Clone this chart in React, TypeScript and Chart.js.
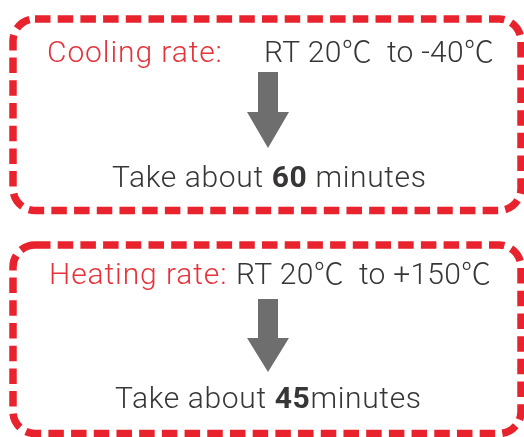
import { useEffect, useRef } from "react";
import { Chart, registerables } from "chart.js";

Chart.register(...registerables);

// ---- content ----
const rateLabels = ["Cooling rate:", "Heating rate:"];
const startTemps = ["RT 20℃", "RT 20℃"];
const targetTemps = ["-40℃", "+150℃"];
const durations = ["60", "45"];
const durationUnits = [" minutes", "minutes"];
const takePrefix = "Take about ";

// ---- layout (scale units == px of the 524x437 canvas) ----
const W = 524;
const H = 437;
const panelBoxes = [
  [13, 19, 521, 210.5],
  [13, 245, 521, 433.5],
];
const headerX = [47, 49];
const headerBaseline = [62, 284];
const tempX = [264, 236];
const arrowX = 268;
const arrowTop = [72, 299];
const arrowNeck = [112, 338];
const arrowTip = [148, 372];
const takeX = [112, 115];
const takeBaseline = [187, 408];

const RED = "#e8232d";
const RED_TEXT = "#e6333b";
const DARK = "#383535";
const GRAY = "#6e6e6e";
const FONT = "Roboto, 'Noto Sans CJK SC', sans-serif";
const FS = 30;

const drawPlugin = {
  id: "infographic",
  afterDraw(chart: any) {
    const ctx: CanvasRenderingContext2D = chart.ctx;
    const sx = chart.scales.x;
    const sy = chart.scales.y;
    const px = (v: number) => sx.getPixelForValue(v);
    const py = (v: number) => sy.getPixelForValue(v);
    ctx.save();
    for (let i = 0; i < rateLabels.length; i++) {
      const [x0, y0, x1, y1] = panelBoxes[i];
      // dashed rounded frame
      ctx.beginPath();
      ctx.setLineDash([15.5, 7.2]);
      ctx.lineWidth = 7.5;
      ctx.strokeStyle = RED;
      (ctx as any).roundRect(px(x0), py(y0), px(x1) - px(x0), py(y1) - py(y0), 22);
      ctx.stroke();
      ctx.setLineDash([]);

      // header
      ctx.textBaseline = "alphabetic";
      ctx.textAlign = "left";
      (ctx as any).letterSpacing = "0.9px";
      ctx.font = `300 ${FS}px ${FONT}`;
      ctx.fillStyle = RED_TEXT;
      ctx.fillText(rateLabels[i], px(headerX[i]), py(headerBaseline[i]));
      ctx.fillStyle = DARK;
      (ctx as any).letterSpacing = "0.25px";
      ctx.fillText(`${startTemps[i]}  to ${targetTemps[i]}`, px(tempX[i]), py(headerBaseline[i]));

      // arrow
      const shaftHalf = 10;
      const headHalf = 21;
      ctx.beginPath();
      ctx.moveTo(px(arrowX - shaftHalf), py(arrowTop[i]));
      ctx.lineTo(px(arrowX + shaftHalf), py(arrowTop[i]));
      ctx.lineTo(px(arrowX + shaftHalf), py(arrowNeck[i]));
      ctx.lineTo(px(arrowX + headHalf), py(arrowNeck[i]));
      ctx.lineTo(px(arrowX), py(arrowTip[i]));
      ctx.lineTo(px(arrowX - headHalf), py(arrowNeck[i]));
      ctx.lineTo(px(arrowX - shaftHalf), py(arrowNeck[i]));
      ctx.closePath();
      ctx.fillStyle = GRAY;
      ctx.fill();

      // duration line
      (ctx as any).letterSpacing = "0.65px";
      let x = px(takeX[i]);
      const y = py(takeBaseline[i]);
      ctx.fillStyle = DARK;
      ctx.font = `300 ${FS}px ${FONT}`;
      ctx.fillText(takePrefix, x, y);
      x += ctx.measureText(takePrefix).width;
      ctx.font = `700 ${FS}px ${FONT}`;
      ctx.fillText(durations[i], x, y);
      x += ctx.measureText(durations[i]).width;
      ctx.font = `300 ${FS}px ${FONT}`;
      ctx.fillText(durationUnits[i], x, y);
    }
    ctx.restore();
  },
};

export default function App() {
  const ref = useRef<HTMLCanvasElement | null>(null);
  useEffect(() => {
    if (!ref.current) return;
    const chart = new Chart(ref.current, {
      type: "scatter",
      data: { datasets: [{ data: [] }] },
      options: {
        animation: false,
        responsive: false,
        devicePixelRatio: 1,
        layout: { padding: 0 },
        plugins: { legend: { display: false }, tooltip: { enabled: false } },
        scales: {
          x: { type: "linear", min: 0, max: W, display: false },
          y: { type: "linear", min: 0, max: H, reverse: true, display: false },
        },
      },
      plugins: [drawPlugin],
    });
    return () => chart.destroy();
  }, []);
  return (
    <div style={{ position: "fixed", left: 0, top: 0, width: W, height: H, background: "#fff" }}>
      <canvas ref={ref} width={W} height={H} />
    </div>
  );
}
